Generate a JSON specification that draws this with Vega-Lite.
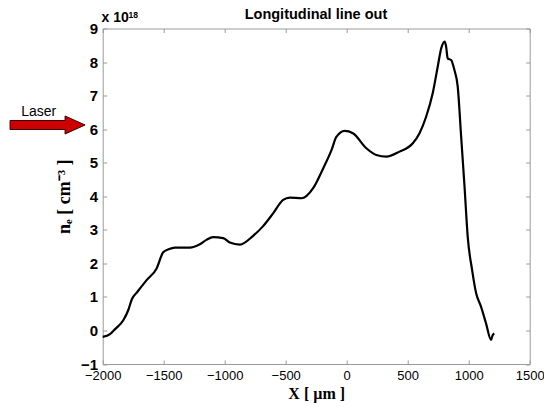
{
  "$schema": "https://vega.github.io/schema/vega-lite/v6.json",
  "width": 427,
  "height": 335.5,
  "autosize": {"type": "none"},
  "padding": {"left": 102.7, "top": 28.5, "right": 14.3, "bottom": 43},
  "background": "white",
  "config": {
    "view": {"stroke": null},
    "axis": {"grid": false, "domainColor": "#9a9a9a", "tickColor": "#9a9a9a", "domainWidth": 1, "tickWidth": 1, "labelFlush": false, "labelOverlap": false}
  },
  "datasets": {
    "curve": [
      {"x": -2000, "y": -0.19}, {"x": -1940, "y": -0.11}, {"x": -1898, "y": 0.04}, {"x": -1830, "y": 0.31},
      {"x": -1790, "y": 0.61}, {"x": -1761, "y": 0.93}, {"x": -1720, "y": 1.13}, {"x": -1640, "y": 1.5},
      {"x": -1558, "y": 1.85}, {"x": -1504, "y": 2.33}, {"x": -1460, "y": 2.42}, {"x": -1408, "y": 2.47},
      {"x": -1286, "y": 2.47}, {"x": -1204, "y": 2.57}, {"x": -1150, "y": 2.7}, {"x": -1095, "y": 2.78},
      {"x": -1013, "y": 2.75}, {"x": -958, "y": 2.62}, {"x": -876, "y": 2.56}, {"x": -767, "y": 2.82},
      {"x": -685, "y": 3.11}, {"x": -603, "y": 3.49}, {"x": -521, "y": 3.89}, {"x": -466, "y": 3.96},
      {"x": -370, "y": 3.94}, {"x": -275, "y": 4.24}, {"x": -193, "y": 4.83}, {"x": -124, "y": 5.38},
      {"x": -85, "y": 5.77}, {"x": -17, "y": 5.95}, {"x": 51, "y": 5.88}, {"x": 161, "y": 5.43},
      {"x": 243, "y": 5.23}, {"x": 325, "y": 5.18}, {"x": 433, "y": 5.33}, {"x": 542, "y": 5.58},
      {"x": 597, "y": 5.88}, {"x": 651, "y": 6.37}, {"x": 705, "y": 7.07}, {"x": 746, "y": 7.86},
      {"x": 775, "y": 8.41}, {"x": 803, "y": 8.61}, {"x": 815, "y": 8.46}, {"x": 828, "y": 8.11},
      {"x": 856, "y": 8.06}, {"x": 883, "y": 7.76}, {"x": 910, "y": 7.27}, {"x": 938, "y": 5.78},
      {"x": 966, "y": 4.28}, {"x": 992, "y": 2.79}, {"x": 1028, "y": 1.8}, {"x": 1061, "y": 1.11},
      {"x": 1101, "y": 0.71}, {"x": 1142, "y": 0.21}, {"x": 1183, "y": -0.28}, {"x": 1196, "y": -0.14},
      {"x": 1210, "y": -0.09}
    ]
  },
  "layer": [
    {
      "data": {"name": "curve"},
      "mark": {"type": "line", "color": "black", "strokeWidth": 2.2, "interpolate": "monotone"},
      "encoding": {
        "x": {"field": "x", "type": "quantitative", "scale": {"domain": [-2000, 1500], "nice": false, "zero": false},
          "axis": {"orient": "bottom", "values": [-2000, -1500, -1000, -500, 0, 500, 1000, 1500], "format": "d", "tickSize": -4, "labelPadding": 9,
            "labelFont": "Liberation Sans", "labelFontSize": 13, "labelColor": "black",
            "title": "X [ µm ]", "titleFont": "Liberation Serif", "titleFontSize": 16, "titleFontWeight": "bold", "titleColor": "black", "titlePadding": 3}},
        "y": {"field": "y", "type": "quantitative", "scale": {"domain": [-1, 9], "nice": false, "zero": false},
          "axis": {"orient": "left", "values": [-1, 0, 1, 2, 3, 4, 5, 6, 7, 8, 9], "format": "d", "tickSize": -4, "labelPadding": 9,
            "labelFont": "Liberation Sans", "labelFontSize": 15, "labelFontWeight": "bold", "labelColor": "black",
            "title": "nₑ [ cm⁻³ ]", "titleFont": "Liberation Serif", "titleFontSize": 18, "titleFontWeight": "bold", "titleColor": "black", "titlePadding": 7}}
      }
    },
    {
      "data": {"name": "curve"},
      "mark": {"type": "point", "opacity": 0},
      "encoding": {
        "x": {"field": "x", "type": "quantitative", "scale": {"domain": [-2000, 1500], "nice": false, "zero": false},
          "axis": {"orient": "top", "values": [-2000, -1500, -1000, -500, 0, 500, 1000, 1500], "tickSize": -4, "labels": false, "title": null}},
        "y": {"field": "y", "type": "quantitative", "scale": {"domain": [-1, 9], "nice": false, "zero": false},
          "axis": {"orient": "right", "values": [-1, 0, 1, 2, 3, 4, 5, 6, 7, 8, 9], "tickSize": -4, "labels": false, "title": null}}
      }
    },
    {
      "data": {"values": [{"x": -2452, "y": 6.124}]},
      "mark": {"type": "point", "shape": "M-1,-0.12L0.467,-0.12L0.467,-0.24L1,0L0.467,0.24L0.467,0.12L-1,0.12Z", "size": 5625, "filled": true, "fill": "#cc0000", "stroke": "#3a0000", "strokeWidth": 1, "opacity": 1},
      "encoding": {
        "x": {"field": "x", "type": "quantitative", "scale": {"domain": [-2000, 1500], "nice": false, "zero": false}, "axis": null},
        "y": {"field": "y", "type": "quantitative", "scale": {"domain": [-1, 9], "nice": false, "zero": false}, "axis": null}
      }
    },
    {
      "data": {"values": [{"x": -2524.6, "y": 6.392, "label": "Laser"}]},
      "mark": {"type": "text", "font": "Liberation Sans", "fontSize": 14, "color": "black", "baseline": "alphabetic", "align": "center"},
      "encoding": {
        "x": {"field": "x", "type": "quantitative", "scale": {"domain": [-2000, 1500], "nice": false, "zero": false}, "axis": null},
        "y": {"field": "y", "type": "quantitative", "scale": {"domain": [-1, 9], "nice": false, "zero": false}, "axis": null},
        "text": {"field": "label"}
      }
    },
    {
      "data": {"values": [{"x": -252, "y": 9.27, "label": "Longitudinal line out"}]},
      "mark": {"type": "text", "font": "Liberation Sans", "fontSize": 14.5, "fontWeight": "bold", "color": "black", "baseline": "alphabetic", "align": "center"},
      "encoding": {
        "x": {"field": "x", "type": "quantitative", "scale": {"domain": [-2000, 1500], "nice": false, "zero": false}, "axis": null},
        "y": {"field": "y", "type": "quantitative", "scale": {"domain": [-1, 9], "nice": false, "zero": false}, "axis": null},
        "text": {"field": "label"}
      }
    },
    {
      "data": {"values": [{"x": -2010, "y": 9.203, "label": "x 10"}]},
      "mark": {"type": "text", "font": "Liberation Sans", "fontSize": 14, "fontWeight": "bold", "color": "black", "baseline": "alphabetic", "align": "left"},
      "encoding": {
        "x": {"field": "x", "type": "quantitative", "scale": {"domain": [-2000, 1500], "nice": false, "zero": false}, "axis": null},
        "y": {"field": "y", "type": "quantitative", "scale": {"domain": [-1, 9], "nice": false, "zero": false}, "axis": null},
        "text": {"field": "label"}
      }
    },
    {
      "data": {"values": [{"x": -1789, "y": 9.31, "label": "18"}]},
      "mark": {"type": "text", "font": "Liberation Sans", "fontSize": 8.5, "fontWeight": "bold", "color": "black", "baseline": "alphabetic", "align": "left"},
      "encoding": {
        "x": {"field": "x", "type": "quantitative", "scale": {"domain": [-2000, 1500], "nice": false, "zero": false}, "axis": null},
        "y": {"field": "y", "type": "quantitative", "scale": {"domain": [-1, 9], "nice": false, "zero": false}, "axis": null},
        "text": {"field": "label"}
      }
    }
  ],
  "resolve": {"axis": {"x": "independent", "y": "independent"}}
}
